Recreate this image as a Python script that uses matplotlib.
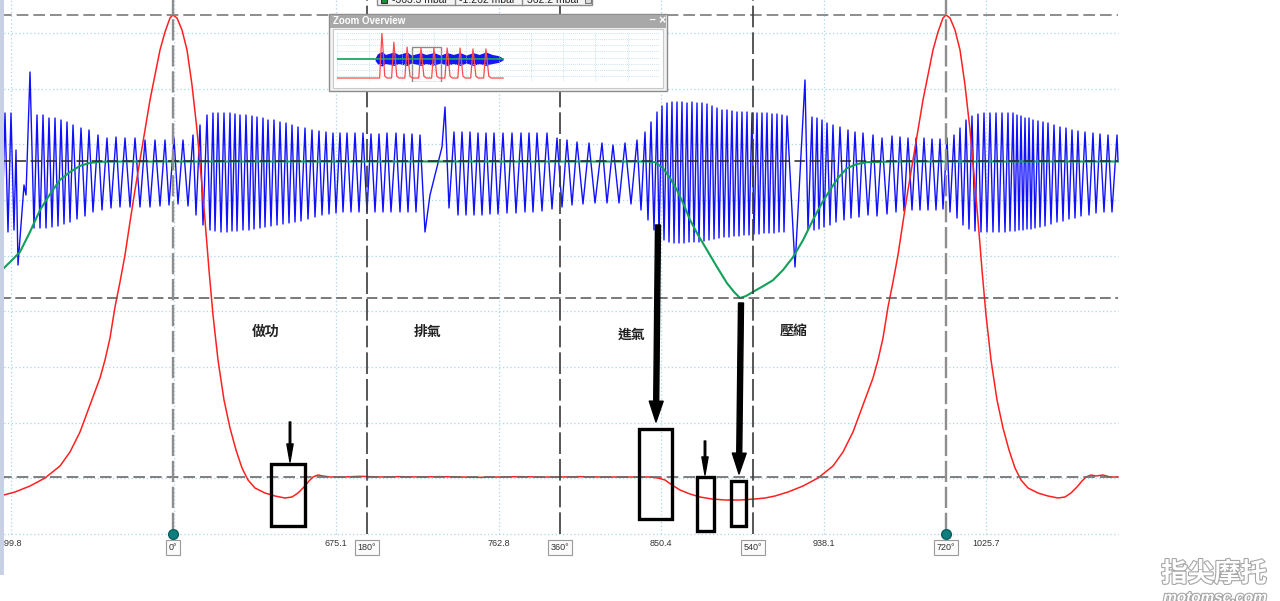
import numpy as np
import matplotlib
matplotlib.use("Agg")
import matplotlib.pyplot as plt
from matplotlib.patches import Rectangle, FancyArrowPatch
import matplotlib.patheffects as pe

plt.rcParams['font.family'] = ['Liberation Sans', 'Noto Sans CJK TC', 'DejaVu Sans']

# ---------------- acquisition time base ----------------
T0_MS = 493.87          # time of sample 0 (ms)
DT_MS = 0.53938         # sample interval (ms)
N_SAMPLES = 1118

grid_ms = [499.8, 587.5, 675.1, 762.8, 850.4, 938.1, 1025.7]
time_ticks_ms = [499.8, 675.1, 762.8, 850.4, 938.1, 1025.7]
time_tick_labels = ["499.8", "675.1", "762.8", "850.4", "938.1", "1025.7"]

crank_angles = [0, 180, 360, 540, 720]
crank_ms = [587.18, 691.82, 795.92, 900.02, 1004.12]

phase_labels = ["做功", "排氣", "進氣", "壓縮"]
phase_ms = [637.3, 724.7, 834.8, 922.1]
phase_div = [3.63, 3.63, 3.58, 3.65]

# ---------------- channel A (red): cylinder pressure, kPa ----------------
red_idx = [0, 15, 30, 45, 60, 70, 80, 90, 100, 105, 110, 115, 120, 125, 130, 135, 140, 145,
           150, 155, 160, 165, 170, 173, 177, 182, 187, 192, 197, 201, 205, 209, 213, 218,
           224, 230, 236, 242, 248, 255, 265, 275, 285, 292, 298, 304, 309, 313, 318, 323,
           330, 345, 360, 380, 400, 420, 440, 460, 480, 500, 520, 540, 560, 580, 600, 620,
           640, 650, 658, 665, 672, 680, 690, 700, 712, 725, 740, 755, 765, 775, 788, 803,
           818, 833, 843, 853, 863, 873, 878, 883, 888, 893, 898, 903, 908, 913, 918, 923,
           928, 933, 938, 943, 946, 950, 955, 960, 965, 970, 974, 978, 982, 986, 991, 997,
           1003, 1009, 1015, 1021, 1028, 1038, 1048, 1058, 1065, 1071, 1077, 1082, 1086,
           1091, 1096, 1103, 1110, 1118]
red_kpa = [-57, -45, -27, -3, 33, 75, 135, 216, 297, 351, 417, 510, 585, 666, 765, 861, 951, 1041,
           1131, 1206, 1281, 1335, 1377, 1386, 1377, 1341, 1281, 1176, 1041, 906, 771, 621, 486, 351,
           231, 147, 81, 27, -9, -33, -48, -57, -63, -60, -48, -30, -12, 0, 6, 3,
           0, 0, 2, 0, 1, 0, 1, 0, -1, 0, 1, 0, 0, 1, 0, 0,
           0, 0, -3, -9, -24, -39, -51, -60, -66, -69, -69, -66, -63, -57, -45, -27,
           -3, 33, 75, 135, 216, 297, 351, 417, 510, 585, 666, 765, 861, 951, 1041, 1131,
           1206, 1281, 1335, 1377, 1386, 1377, 1341, 1281, 1176, 1041, 906, 771, 621, 486, 351, 231,
           147, 81, 27, -9, -33, -48, -57, -63, -60, -48, -30, -12, 0,
           6, 3, 6, 0, 0]

# ---------------- channel B (blue): vibration, mV ----------------
blue_peak_idx = [5, 11, 16, 24, 30, 37, 43, 49, 55, 61, 67, 73, 81, 89, 98, 107, 116, 125, 135, 145,
                 155, 165, 174, 183, 193, 200, 207, 213, 218, 224, 230, 235, 240, 246, 252, 257, 263,
                 268, 274, 280, 286, 292, 298, 305, 312, 319, 326, 333, 340, 347, 355, 363, 371, 379,
                 387, 396, 404, 412, 420, 445, 454, 462, 470, 478, 486, 494, 503, 512, 521, 529, 537,
                 547, 557, 567, 577, 589, 602, 613, 625, 637, 645, 651, 657, 662, 667, 672, 677, 682,
                 687, 692, 697, 702, 707, 712, 717, 722, 727, 732, 737, 742, 747, 752, 757, 762, 767,
                 772, 777, 782, 787, 805, 812, 817, 822, 827, 833, 840, 848, 855, 863, 873, 882, 892,
                 900, 908, 916, 924, 932, 940, 947, 954, 960, 966, 972, 978, 984, 990, 996, 1002, 1008,
                 1013, 1017, 1021, 1025, 1029, 1033, 1038, 1043, 1048, 1054, 1060, 1066, 1072, 1078,
                 1085, 1093, 1100, 1108, 1117]
blue_peak_mv = [48, 48, 11, -24, 89, 46, 46, 43, 43, 41, 39, 36, 33, 31, 26, 23, 24, 23, 23, 21,
                21, 21, 23, 21, 26, 36, 46, 48, 48, 48, 48, 47, 46, 46, 45, 44, 43,
                41, 41, 39, 38, 36, 34, 33, 31, 30, 29, 28, 28, 28, 28, 28, 27, 27,
                28, 28, 27, 27, 26, 54, 29, 29, 29, 28, 28, 28, 28, 28, 28, 28, 28,
                28, 23, 21, 19, 18, 18, 16, 18, 21, 29, 39, 49, 55, 58, 59, 59, 59,
                58, 59, 58, 58, 57, 55, 53, 51, 51, 50, 49, 49, 49, 48, 48, 48, 48,
                47, 47, 46, 45, 81, 44, 43, 41, 38, 36, 34, 31, 29, 28, 26, 23, 25,
                24, 23, 23, 23, 22, 22, 23, 26, 33, 41, 45, 47, 48, 48, 48, 48, 48,
                48, 46, 45, 43, 43, 41, 40, 39, 38, 36, 34, 33, 31, 30,
                29, 28, 27, 26, 26]
blue_trough_idx = [2, 8, 14, 18, 26, 34, 40, 46, 52, 58, 64, 70, 77, 85, 93, 102, 111, 120, 130, 140,
                   150, 160, 169, 178, 188, 196, 203, 210, 215, 221, 227, 232, 237, 243, 249, 254, 260,
                   265, 271, 277, 283, 289, 295, 301, 308, 315, 322, 329, 336, 343, 351, 359, 367, 375,
                   383, 391, 400, 408, 416, 425, 449, 458, 466, 474, 482, 490, 498, 507, 516, 525, 533,
                   542, 552, 562, 572, 583, 595, 607, 619, 631, 641, 648, 654, 659, 664, 669, 674, 679,
                   684, 689, 694, 699, 704, 709, 714, 719, 724, 729, 734, 739, 744, 749, 754, 759, 764,
                   769, 774, 779, 784, 795, 808, 814, 819, 824, 830, 836, 844, 851, 859, 868, 877, 887,
                   896, 904, 912, 920, 928, 936, 943, 950, 957, 963, 969, 975, 981, 987, 993, 999, 1005,
                   1010, 1015, 1019, 1023, 1027, 1031, 1035, 1040, 1045, 1051, 1057, 1063, 1069, 1075,
                   1081, 1089, 1096, 1104, 1112]
blue_trough_mv = [-71, -71, -69, -104, -34, -67, -67, -67, -66, -65, -63, -61, -58, -55, -51, -49, -47, -46, -46, -46,
                  -46, -45, -44, -43, -45, -54, -64, -69, -70, -71, -71, -70, -70, -69, -69, -68, -67,
                  -66, -65, -64, -63, -62, -61, -60, -58, -56, -54, -53, -52, -51, -51, -51, -51, -51,
                  -51, -51, -51, -51, -51, -71, -47, -54, -54, -54, -54, -53, -53, -52, -52, -51, -51,
                  -50, -48, -46, -44, -43, -42, -42, -42, -43, -49, -59, -69, -76, -79, -81, -82, -82,
                  -82, -81, -81, -81, -80, -79, -78, -77, -76, -76, -75, -75, -74, -74, -73, -73, -72,
                  -72, -72, -71, -71, -106, -69, -69, -68, -66, -64, -61, -59, -57, -56, -54, -55, -53,
                  -51, -50, -49, -49, -49, -49, -48, -51, -57, -64, -68, -70, -71, -71, -71, -71, -71,
                  -70, -70, -69, -69, -68, -68, -67, -66, -65, -63, -61, -60, -58, -57,
                  -55, -54, -52, -51, -51]
blue_edge_idx = [0, 430, 437, 442, 1118]
blue_edge_mv = [-14, -34, -6, 14, 0]

# ---------------- channel C (green): intake pressure, mbar ----------------
green_idx = [0, 10, 20, 30, 40, 50, 60, 70, 80, 90, 100, 120, 300, 500, 648, 655, 663, 670, 677,
             684, 690, 698, 707, 717, 727, 734, 740, 746, 753, 763, 773, 783, 793, 803, 813,
             822, 830, 838, 847, 857, 867, 897, 1000, 1118]
green_mbar = [-294, -268, -241, -188, -130, -88, -50, -29, -13, -5, -2, -1.3, -1.3, -1.3, -1.3, -3, -19, -45, -77,
              -117, -156, -196, -236, -281, -324, -347, -363.3, -358, -347, -332, -316, -289, -255, -210, -156,
              -111, -77, -45, -19, -8, -3, -1.3, -1.3, -1.3]

# rulers / readout
ruler_red_kpa = [1386, 0]
ruler_green_mbar = [-1.262, -363.3]
readout_text = ["-363.3 mbar", "-1.262 mbar", "362.2 mbar"]

# annotations (sample index, red-channel kPa)
box_idx = [(271, 305), (639, 672), (697, 714), (731, 746)]
box_kpa = [(-147, 39), (-126, 144), (-162, 0), (-147, -12)]
arrow_idx = [(290, 290), (658, 656), (705, 705), (741, 739)]
arrow_kpa = [(165, 45), (756, 165), (108, 6), (522, 9)]
arrow_thick = [False, True, False, True]

# overview (whole capture, divisions)
ov_spike_x = [1.39, 1.76, 2.17, 2.60, 3.00, 3.41, 3.81, 4.21, 4.61]
ov_spike_h = [8.0, 6.5, 5.7, 5.55, 5.55, 5.55, 5.55, 5.4, 5.4]
ov_blue_x = [1.18, 1.25, 1.39, 1.5, 1.76, 1.9, 2.17, 2.3, 2.6, 2.75, 3.0, 3.2, 3.41, 3.6, 3.81, 4.0, 4.21, 4.4, 4.61, 4.8, 5.0, 5.14]
ov_blue_top = [3.9, 4.6, 5.0, 4.5, 4.9, 4.5, 4.9, 4.4, 4.8, 4.5, 4.8, 4.4, 4.8, 4.5, 4.8, 4.4, 4.8, 4.5, 4.9, 4.5, 4.3, 3.9]
ov_blue_bot = [3.5, 3.0, 2.6, 3.0, 2.7, 3.0, 2.7, 3.1, 2.7, 3.0, 2.7, 3.1, 2.7, 3.0, 2.7, 3.1, 2.7, 3.0, 2.7, 3.0, 3.2, 3.6]
ov_red_base = 0.65
ov_green_level = 3.76
ov_trace_end = 5.14
ov_view = (2.32, 3.22, 0.0, 5.7)

# ---------------- scales ----------------
DIV_PX = 55.67
RED_ZERO_DIV, RED_KPA_PER_DIV = 57 / DIV_PX, 167.0
BLUE_ZERO_DIV, BLUE_MV_PER_DIV = 373 / DIV_PX, DIV_PX
GREEN_ZERO_DIV, GREEN_MBAR_PER_DIV = 373 / DIV_PX, 147.6


def t_of(idx):
    return T0_MS + np.asarray(idx, dtype=float) * DT_MS


def red_div(v):
    return RED_ZERO_DIV + np.asarray(v, dtype=float) / RED_KPA_PER_DIV


def blue_div(v):
    return BLUE_ZERO_DIV + np.asarray(v, dtype=float) / BLUE_MV_PER_DIV


def green_div(v):
    return GREEN_ZERO_DIV + np.asarray(v, dtype=float) / GREEN_MBAR_PER_DIV


W, H = 1280, 601
fig = plt.figure(figsize=(W / 100, H / 100), dpi=100)
fig.patch.set_facecolor('white')
ax = fig.add_axes([0, 0, 1, 1])
ax.set_xlim(T0_MS, T0_MS + W * DT_MS)
ax.set_ylim((534 - H) / DIV_PX, 534 / DIV_PX)
ax.axis('off')
y_top = 534 / DIV_PX
t_end = float(t_of(N_SAMPLES))

# grid
grid_c = '#a9d6e8'
for k in range(10):
    ax.plot([T0_MS, t_end], [k, k], color=grid_c, lw=0.9, ls=(0, (1, 2)), zorder=1)
for t in grid_ms:
    ax.plot([t, t], [0, y_top], color=grid_c, lw=0.9, ls=(0, (1, 2)), zorder=1)

# blue trace
b_idx = blue_peak_idx + blue_trough_idx + blue_edge_idx
b_mv = blue_peak_mv + blue_trough_mv + blue_edge_mv
order = np.argsort(b_idx, kind='stable')
ax.plot(t_of(np.array(b_idx)[order]), blue_div(np.array(b_mv)[order]), color='#1010ff', lw=1.0, zorder=2)

# green trace
ax.plot(t_of(green_idx), green_div(green_mbar), color='#12a05a', lw=1.5, zorder=3)

# red trace
ax.plot(t_of(red_idx), red_div(red_kpa), color='#ff2020', lw=1.1, zorder=4)

# horizontal rulers
for v, c in zip(ruler_red_kpa, ['#7a7a7a', '#6a6a6a']):
    ax.plot([T0_MS, t_end], [red_div(v)] * 2, color=c, lw=1.2, ls=(0, (7, 3)), zorder=5)
for v, c in zip(ruler_green_mbar, ['#262626', '#555555']):
    ax.plot([T0_MS, t_end], [green_div(v)] * 2, color=c, lw=1.1, ls=(0, (7, 3)), zorder=5)

# crank-angle cursors
for a, t in zip(crank_angles, crank_ms):
    if a in (0, 720):
        ax.plot([t, t], [0, y_top], color='#8e8e8e', lw=1.7, ls=(0, (9, 2)), zorder=5)
    else:
        ax.plot([t, t], [0, y_top], color='#3a3a3a', lw=1.2, ls=(0, (13, 3)), zorder=5)
ax.plot([crank_ms[0], crank_ms[-1]], [0, 0], 'o', color='#0e7f7e', mec='#0a5f5f', ms=7, zorder=7)

# time labels
for t, lab in zip(time_ticks_ms, time_tick_labels):
    ax.text(t, -0.17, lab, fontsize=6.5, ha='center', va='center', color='#333333', zorder=6)
for a, t in zip(crank_angles, crank_ms):
    ax.text(t, -0.245, f"{a}°", fontsize=6.5, ha='center', va='center', color='#333333', zorder=8,
            bbox=dict(boxstyle='square,pad=0.3', fc='#fbfbfb', ec='#9a9a9a', lw=0.8))

# phase labels
for lab, t, d in zip(phase_labels, phase_ms, phase_div):
    ax.text(t, d, lab, fontsize=10, fontweight='bold', ha='center', va='center', color='#222222',
            family=['Noto Sans CJK TC'], zorder=6)

# annotation boxes and arrows
for (i0, i1), (k0, k1) in zip(box_idx, box_kpa):
    x0, x1 = t_of(i0), t_of(i1)
    y0, y1 = red_div(k0), red_div(k1)
    ax.add_patch(Rectangle((x0, y0), x1 - x0, y1 - y0, fill=False, ec='black', lw=2.4, zorder=9))
for (i0, i1), (k0, k1), thick in zip(arrow_idx, arrow_kpa, arrow_thick):
    style = ("simple,head_width=1.0,head_length=1.5,tail_width=0.36" if thick
             else "simple,head_width=0.45,head_length=1.3,tail_width=0.11")
    ax.add_patch(FancyArrowPatch((t_of(i0), red_div(k0)), (t_of(i1), red_div(k1)),
                                 arrowstyle=style, mutation_scale=10, color='black',
                                 shrinkA=0, shrinkB=0, zorder=9))


# ---------------- window chrome (figure pixel helpers) ----------------
def frect(x, y, w, h, **kw):
    fig.patches.append(Rectangle((x / W, 1 - (y + h) / H), w / W, h / H, transform=fig.transFigure, **kw))


def ftext(x, y, s, **kw):
    fig.text(x / W, 1 - y / H, s, **kw)


# left strip
frect(0, 0, 4, 575, fc='#c8d0e6', ec='none', zorder=10)

# readout table at the top (mostly off-screen)
frect(377, -10, 215, 15, fc='#f4f4f4', ec='#8a8a8a', lw=1, zorder=10)
frect(381, -5, 6, 8, fc='#1a8f3a', ec='#333333', lw=0.8, zorder=11)
frect(585, -6, 6, 9, fc='#dddddd', ec='#777777', lw=0.8, zorder=11)
for xx in (455, 522):
    fig.lines.append(plt.Line2D([xx / W] * 2, [1 - 5 / H, 1.0], transform=fig.transFigure, color='#8a8a8a', lw=1, zorder=11))
for xx, s in zip((392, 459, 527), readout_text):
    ftext(xx, 3.0, s, fontsize=7.5, va='baseline', ha='left', color='#222222', zorder=12)

# zoom overview window
frect(329, 14, 338, 77, fc='#f2f2f2', ec='#8c8c8c', lw=1, zorder=10)
frect(330, 15, 336, 13, fc='#a8a8a8', ec='none', zorder=11)
frect(333, 29, 330, 59, fc='white', ec='#c9c9c9', lw=0.8, zorder=11)
ftext(333, 21.5, "Zoom Overview", fontsize=7, fontweight='bold', color='white', va='center', ha='left', zorder=12)
ftext(652, 21.0, "_", fontsize=7, fontweight='bold', color='white', va='bottom', ha='center', zorder=12)
ftext(662, 21.5, "×", fontsize=9, fontweight='bold', color='white', va='center', ha='center', zorder=12)

ov = fig.add_axes([337 / W, 1 - 82 / H, 323 / W, 49 / H], zorder=12)
ov.set_xlim(0, 10)
ov.set_ylim(0, 8)
ov.axis('off')
for k in range(11):
    ov.plot([k, k], [0, 8], color='#b6dbea', lw=0.6, ls=(0, (1, 1.5)))
for k in range(9):
    ov.plot([0, 10], [k, k], color='#b6dbea', lw=0.6, ls=(0, (1, 1.5)))
ov.plot([0, ov_trace_end], [ov_green_level] * 2, color='#12a05a', lw=1.2)
ov.fill_between(ov_blue_x, ov_blue_bot, ov_blue_top, color='#1515ff', lw=0)
rx, ry = [0.0], [ov_red_base]
for s, h in zip(ov_spike_x, ov_spike_h):
    rx += [s - 0.07, s, s + 0.09, s + 0.16]
    ry += [ov_red_base, h, ov_red_base + 0.3, ov_red_base]
rx.append(ov_trace_end)
ry.append(ov_red_base)
ov.plot(rx, ry, color='#ff4a4a', lw=0.9)
vx0, vx1, vy0, vy1 = ov_view
ov.add_patch(Rectangle((vx0, vy0), vx1 - vx0, vy1 - vy0, fill=False, ec='#8a8a8a', lw=1))

# watermark
stroke = [pe.withStroke(linewidth=1.6, foreground='#a6a6a6')]
ftext(1214, 574, "指尖摩托", fontsize=19, fontweight='bold', color='white', ha='center', va='center',
      family=['Noto Sans CJK SC'], path_effects=stroke, zorder=12)
ftext(1215, 598, "motomsc.com", fontsize=11, fontweight='bold', style='italic', color='white',
      ha='center', va='center', path_effects=stroke, zorder=12)

fig.savefig('out.png', dpi=100)
